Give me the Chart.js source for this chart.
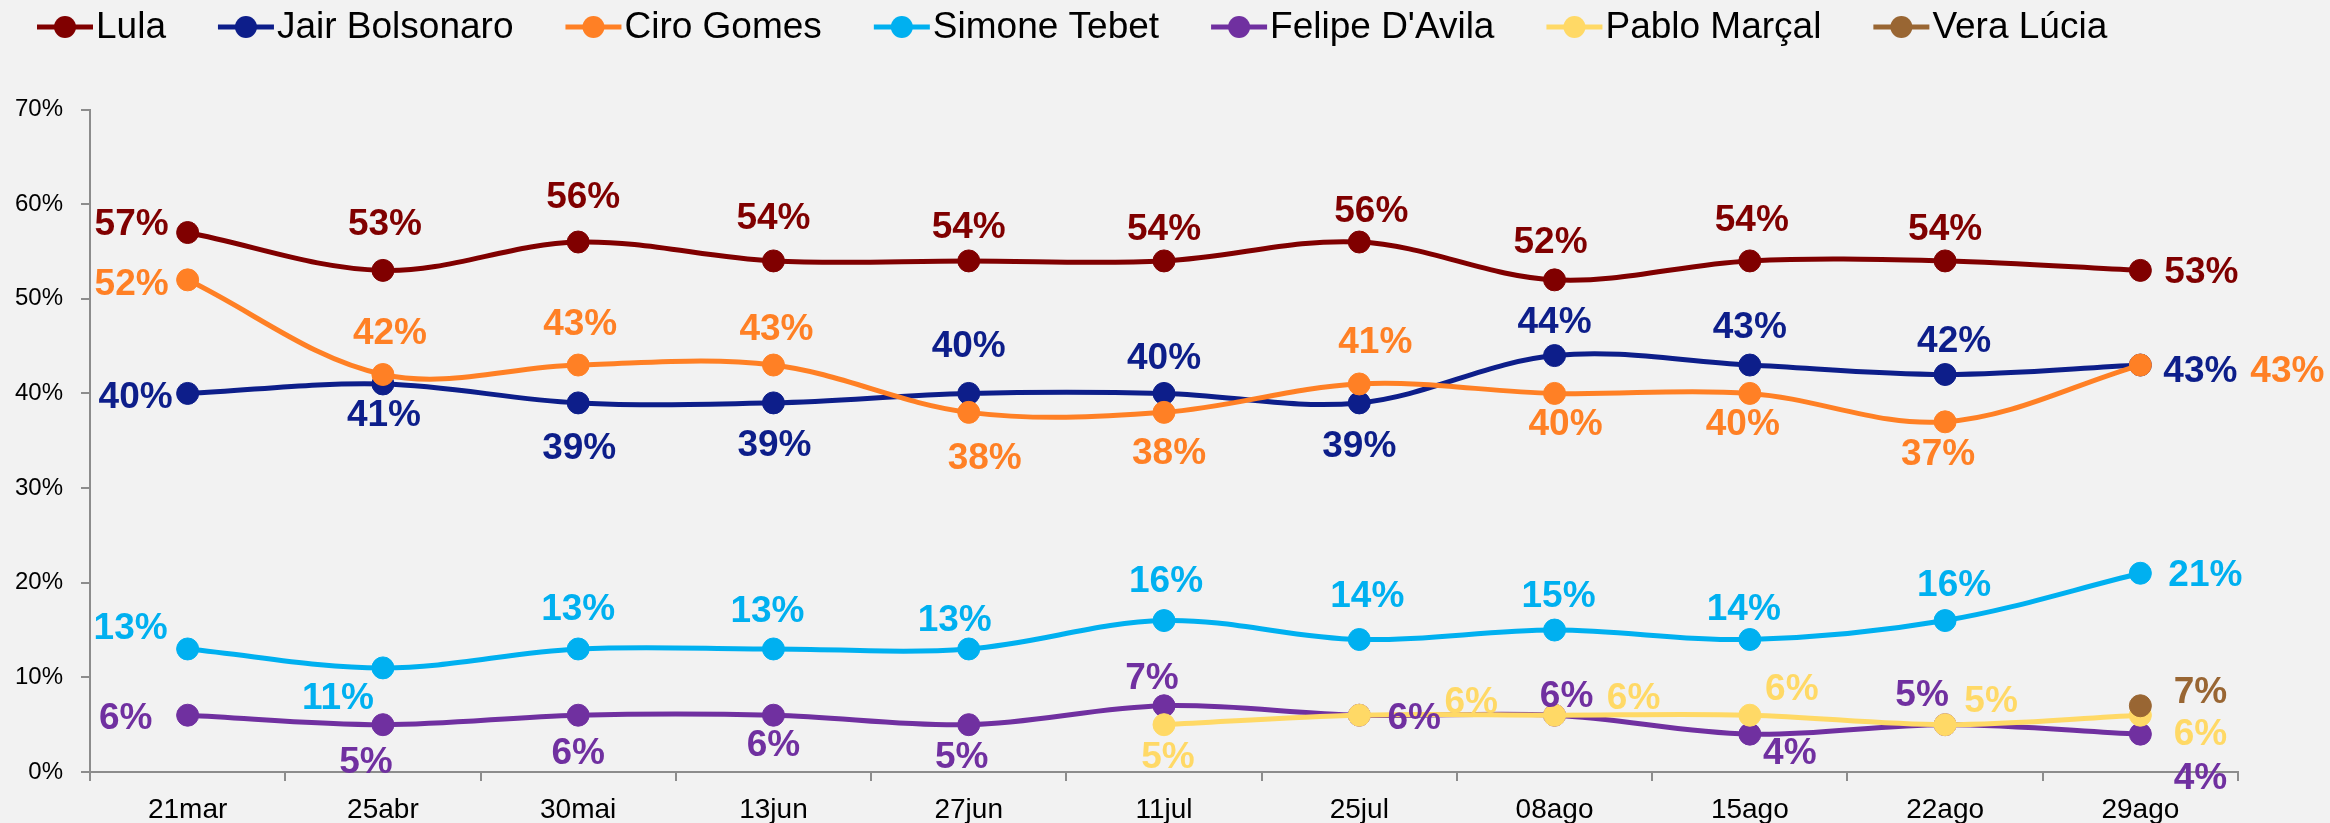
<!DOCTYPE html>
<html>
<head>
<meta charset="utf-8">
<script src="https://cdn.jsdelivr.net/npm/chart.js@4"></script>
<style>
  html, body { margin: 0; padding: 0; background: #F2F2F2; }
  #wrap { width: 2330px; height: 823px; position: relative; }
</style>
</head>
<body>
<div id="wrap"><canvas id="pollChart"></canvas></div>
<script>
// poll rounds
const labels = ['21mar', '25abr', '30mai', '13jun', '27jun', '11jul', '25jul', '08ago', '15ago', '22ago', '29ago'];

// vote intention (%)
const lula      = [57, 53, 56, 54, 54, 54, 56, 52, 54, 54, 53];
const bolsonaro = [40, 41, 39, 39, 40, 40, 39, 44, 43, 42, 43];
const ciro      = [52, 42, 43, 43, 38, 38, 41, 40, 40, 37, 43];
const tebet     = [13, 11, 13, 13, 13, 16, 14, 15, 14, 16, 21];
const felipe    = [6, 5, 6, 6, 5, 7, 6, 6, 4, 5, 4];
const pablo     = [null, null, null, null, null, 5, 6, 6, 6, 5, 6];
const vera      = [null, null, null, null, null, null, null, null, null, null, 7];

const yTicks = [0, 10, 20, 30, 40, 50, 60, 70];

// where each value label sits relative to its point (px)
const lulaPos      = [[-56, -9], [2, -47], [5, -45], [0, -43], [0, -34], [0, -32], [12, -31], [-4, -38], [2, -41], [0, -32], [61, 1]];
const bolsonaroPos = [[-52, 3], [1, 31], [1, 45], [1, 42], [0, -48], [0, -36], [0, 43], [0, -34], [0, -38], [9, -34], [60, 6]];
const ciroPos      = [[-56, 4], [7, -42], [2, -41], [3, -36], [16, 45], [5, 40], [16, -42], [11, 30], [-7, 30], [-7, 32], [147, 6]];
const tebetPos     = [[-57, -21], [-45, 30], [0, -40], [-6, -38], [-14, -29], [2, -40], [8, -44], [4, -34], [-6, -31], [9, -36], [65, 2]];
const felipePos    = [[-62, 3], [-17, 37], [0, 38], [0, 30], [-7, 32], [-12, -28], [55, 3], [12, -19], [40, 19], [-23, -30], [60, 44]];
const pabloPos     = [null, null, null, null, null, [4, 32], [112, -13], [79, -17], [42, -26], [46, -24], [60, 19]];
const veraPos      = [null, null, null, null, null, null, null, null, null, null, [60, -14]];

function series(label, data, color, pos, order) {
    return {
        label: label,
        data: data,
        borderColor: color,
        backgroundColor: color,
        pointBackgroundColor: color,
        pointBorderColor: color,
        borderWidth: 5,
        pointRadius: 11,
        pointHoverRadius: 11,
        pointBorderWidth: 1,
        tension: 0.35,
        fill: false,
        labelPos: pos,
        order: order,
    };
}

const datasets = [
    series('Lula', lula, '#800000', lulaPos, 7),
    series('Jair Bolsonaro', bolsonaro, '#0D1E8A', bolsonaroPos, 6),
    series('Ciro Gomes', ciro, '#FF8025', ciroPos, 5),
    series('Simone Tebet', tebet, '#00B0F0', tebetPos, 4),
    series("Felipe D'Avila", felipe, '#7030A0', felipePos, 3),
    series('Pablo Marçal', pablo, '#FFD966', pabloPos, 2),
    series('Vera Lúcia', vera, '#996633', veraPos, 1),
];

// value labels next to the points
const valueLabels = {
    id: 'valueLabels',
    afterDatasetsDraw(chart) {
        const ctx = chart.ctx;
        ctx.save();
        ctx.font = 'bold 37px "Liberation Sans", Arial, sans-serif';
        ctx.textAlign = 'center';
        ctx.textBaseline = 'middle';
        chart.data.datasets.forEach((ds, i) => {
            const meta = chart.getDatasetMeta(i);
            meta.data.forEach((pt, j) => {
                const v = ds.data[j];
                if (v == null || !ds.labelPos[j]) return;
                ctx.fillStyle = ds.borderColor;
                ctx.fillText(v + '%', pt.x + ds.labelPos[j][0], pt.y + ds.labelPos[j][1] + 1);
            });
        });
        ctx.restore();
    }
};

// legend with line + dot markers, left aligned
const lineLegend = {
    id: 'lineLegend',
    afterDraw(chart) {
        const ctx = chart.ctx;
        ctx.save();
        ctx.font = '37px "Liberation Sans", Arial, sans-serif';
        ctx.textBaseline = 'middle';
        ctx.textAlign = 'left';
        let x = 37;
        const y = 27;
        chart.data.datasets.forEach(ds => {
            ctx.strokeStyle = ds.borderColor;
            ctx.fillStyle = ds.borderColor;
            ctx.lineWidth = 5;
            ctx.beginPath();
            ctx.moveTo(x, y);
            ctx.lineTo(x + 56, y);
            ctx.stroke();
            ctx.beginPath();
            ctx.arc(x + 28, y, 11, 0, Math.PI * 2);
            ctx.fill();
            ctx.fillStyle = '#000';
            ctx.fillText(ds.label, x + 59, y + 1);
            x += 59 + ctx.measureText(ds.label).width + 52;
        });
        ctx.restore();
    }
};

const ctx = document.getElementById('pollChart').getContext('2d');
new Chart(ctx, {
    type: 'line',
    data: { labels: labels, datasets: datasets },
    plugins: [valueLabels, lineLegend],
    options: {
        responsive: true,
        maintainAspectRatio: false,
        devicePixelRatio: 1,
        animation: false,
        layout: { padding: { top: 109.5, right: 92, left: 0, bottom: 0 } },
        plugins: {
            legend: { display: false },
            tooltip: { enabled: false },
        },
        scales: {
            x: {
                offset: true,
                grid: { offset: true, drawOnChartArea: false, tickLength: 9, color: '#8C8C8C', lineWidth: 2 },
                border: { color: '#8C8C8C', width: 2 },
                ticks: { color: '#000', font: { family: '"Liberation Sans", Arial, sans-serif', size: 28 }, padding: 12, maxRotation: 0 },
                afterFit(scale) { scale.height = 51; },
            },
            y: {
                min: 0,
                max: 70,
                afterBuildTicks(scale) { scale.ticks = yTicks.map(v => ({ value: v })); },
                grid: { drawOnChartArea: false, tickLength: 9, color: '#8C8C8C', lineWidth: 2 },
                border: { color: '#8C8C8C', width: 2 },
                ticks: {
                    color: '#000',
                    font: { family: '"Liberation Sans", Arial, sans-serif', size: 24 },
                    padding: 18,
                    callback: v => v + '%',
                },
                afterFit(scale) { scale.width = 90; },
            },
        },
    },
});
</script>
</body>
</html>
